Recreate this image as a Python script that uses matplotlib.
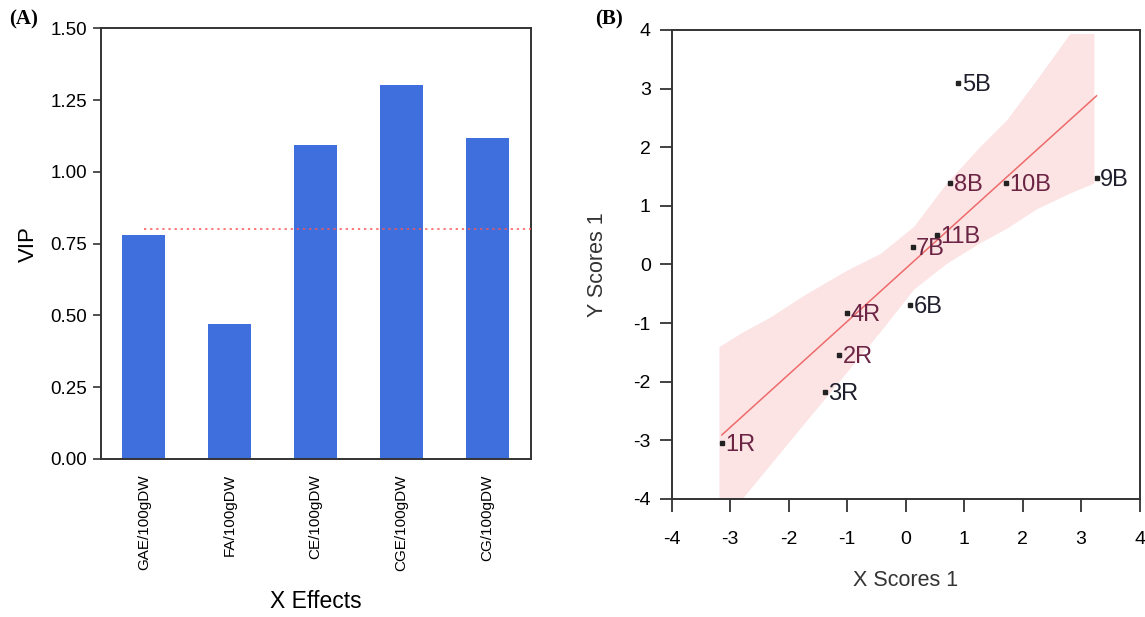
import numpy as np
import matplotlib

matplotlib.use("Agg")
import matplotlib.pyplot as plt  # noqa: E402

plt.rcParams["font.family"] = ["Liberation Sans", "DejaVu Sans"]
plt.rcParams["axes.unicode_minus"] = False

# ── panel A: VIP per X effect ─────────────────────────────────────────
effect_names = ["GAE/100gDW", "FA/100gDW", "CE/100gDW", "CGE/100gDW", "CG/100gDW"]
vip_values = [0.781, 0.469, 1.094, 1.304, 1.117]
vip_threshold = 0.80
vip_ticks = [0.00, 0.25, 0.50, 0.75, 1.00, 1.25, 1.50]

# ── panel B: PLS scores with fit and confidence band ──────────────────
sample_labels = ["1R", "2R", "3R", "4R", "5B", "6B", "7B", "8B", "9B", "10B", "11B"]
x_scores = [-3.14, -1.13, -1.376, -0.996, 0.905, 0.077, 0.12, 0.764, 3.265, 1.714, 0.53]
y_scores = [-3.05, -1.54, -2.18, -0.82, 3.10, -0.69, 0.30, 1.39, 1.47, 1.39, 0.50]
band_x = [-3.19, -2.80, -2.32, -1.70, -1.01, -0.43, 0.14, 0.70, 1.27, 1.73, 2.24, 2.81, 3.22]
band_upper = [-1.40, -1.16, -0.90, -0.50, -0.10, 0.19, 0.65, 1.39, 2.01, 2.47, 3.15, 3.94, 3.94]
band_lower = [-4.60, -4.00, -3.42, -2.67, -1.84, -1.14, -0.42, 0.02, 0.37, 0.62, 0.95, 1.22, 1.39]
score_ticks = [-4, -3, -2, -1, 0, 1, 2, 3, 4]

BAR_COLOR = "#3f6fdc"
SPINE_COLOR = "#333333"
FIT_COLOR = "#ee6b6b"
BAND_COLOR = "#fce3e4"
TEXT_IN_BAND = "#6b2444"
TEXT_OUT_BAND = "#1e1e2c"

figure = plt.figure(figsize=(11.45, 6.17), dpi=100, facecolor="white")

# ── (A) ───────────────────────────────────────────────────────────────
axis_a = figure.add_axes([0.0880, 0.2561, 0.3755, 0.698])
positions = np.arange(len(effect_names))
axis_a.bar(positions, vip_values, width=0.5, color=BAR_COLOR, zorder=2)
axis_a.hlines(
    vip_threshold,
    xmin=positions[0],
    xmax=positions[-1] + 0.5,
    colors="#ff5555",
    linestyles=(0, (1.5, 2.5)),
    lw=1.1,
    zorder=3,
)
axis_a.set_xlim(-0.5, len(effect_names) - 0.5)
axis_a.set_ylim(vip_ticks[0], vip_ticks[-1])
axis_a.set_yticks(vip_ticks)
axis_a.set_yticklabels([f"{v:.2f}" for v in vip_ticks], fontsize=13.5)
axis_a.set_xticks(positions)
axis_a.set_xticklabels(effect_names, rotation=90, fontsize=11)
axis_a.tick_params(axis="x", length=0, pad=11)
axis_a.tick_params(axis="y", length=6, width=1.2, color=SPINE_COLOR, pad=4)
axis_a.set_ylabel("VIP", fontsize=16, labelpad=8)
axis_a.set_xlabel("X Effects", fontsize=16.5, labelpad=14)
for spine in axis_a.spines.values():
    spine.set_color(SPINE_COLOR)
    spine.set_linewidth(1.4)

# ── (B) ───────────────────────────────────────────────────────────────
axis_b = figure.add_axes([0.5865, 0.1913, 0.4087, 0.7601])
axis_b.fill_between(band_x, band_lower, band_upper, color=BAND_COLOR, lw=0, zorder=1)

slope, intercept = np.polyfit(x_scores, y_scores, 1)
fit_x = np.array([min(x_scores), max(x_scores)])
axis_b.plot(fit_x, intercept + slope * fit_x, color=FIT_COLOR, lw=1.1, zorder=2)

axis_b.plot(x_scores, y_scores, ls="none", marker="s", markersize=2.2,
            color="#222222", zorder=3)

for label, x, y in zip(sample_labels, x_scores, y_scores):
    # labels under the pink band read as maroon in the original
    centre = x + 0.35
    inside = (
        band_x[0] <= centre <= band_x[-1]
        and np.interp(centre, band_x, band_lower) <= y <= np.interp(centre, band_x, band_upper)
    )
    axis_b.annotate(
        label,
        (x, y),
        xytext=(2.5, -1.5),
        textcoords="offset points",
        ha="left",
        va="center",
        fontsize=17,
        color=TEXT_IN_BAND if inside else TEXT_OUT_BAND,
        zorder=4,
    )

axis_b.set_xlim(score_ticks[0], score_ticks[-1])
axis_b.set_ylim(score_ticks[0], score_ticks[-1])
axis_b.set_xticks(score_ticks)
axis_b.set_yticks(score_ticks)
axis_b.tick_params(axis="both", length=9, width=1.3, color=SPINE_COLOR, labelsize=14)
axis_b.tick_params(axis="x", pad=14)
axis_b.tick_params(axis="y", pad=6)
axis_b.set_xlabel("X Scores 1", fontsize=15.5, color="#333333", labelpad=16)
axis_b.set_ylabel("Y Scores 1", fontsize=15.5, color="#333333", labelpad=18)
for spine in axis_b.spines.values():
    spine.set_color(SPINE_COLOR)
    spine.set_linewidth(1.4)

# panel letters
for letter, left in [("(A)", 0.008), ("(B)", 0.520)]:
    figure.text(left, 0.985, letter, ha="left", va="top", fontsize=15,
                fontweight="bold", family=["Liberation Serif", "DejaVu Serif"])

figure.savefig("out.png", dpi=100, facecolor="white")
